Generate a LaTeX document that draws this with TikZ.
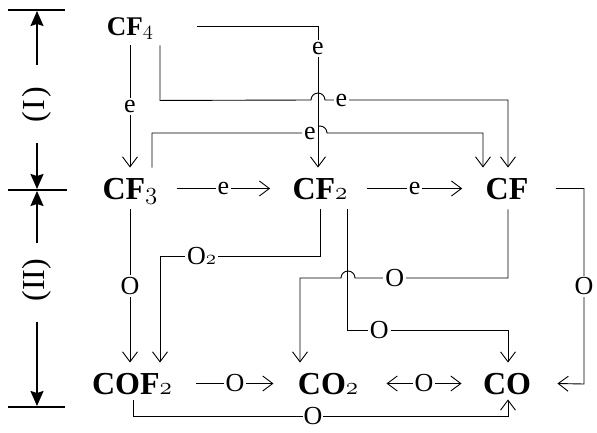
\documentclass[tikz,border=0pt]{standalone}
\usepackage{fontspec}
\setmainfont{Liberation Serif}
\usetikzlibrary{
    arrows.meta,
    positioning
}
\newcommand\osnum[2][25]{{\fontsize{#1}{#1}\usefont{OML}{cmm}{m}{it}#2}}

\begin{document}
\begin{tikzpicture}[x=1pt,y=1pt,line width=0.9pt,
  arr/.style={-{Straight Barb[length=10pt,width=15pt]}},
  arrbi/.style={{Straight Barb[length=10pt,width=15pt]}-{Straight Barb[length=10pt,width=15pt]}},
  spec/.style={font=\bfseries\fontsize{32}{36}\selectfont, anchor=base,
               inner xsep=0pt, inner ysep=10pt, text height=21pt, text depth=0pt},
  small spec/.style={spec, font=\bfseries\fontsize{27}{30}\selectfont, text height=18pt},
  lbl/.style={fill=white, inner sep=2pt, font=\fontsize{26}{28}\selectfont},
  stage/.style={font=\fontsize{32}{36}\selectfont, rotate=90},
  dim/.style={line width=1.8pt, -{Stealth[length=15pt,width=13pt,inset=2pt]}},
  bar/.style={line width=1.2pt}]

\useasboundingbox (0,0) rectangle (597,-432);

% Stages
\draw[bar] (8,-10) -- (65,-10);
\draw[bar] (8,-190) -- (67,-190);
\draw[bar] (8,-407) -- (65,-407);
\node[stage] (st1) at (37,-105) {(\kern2pt I\kern2pt)};
\node[stage] (st2) at (37,-280) {(II)};
\draw[dim] (37,-65) -- (37,-11);
\draw[dim] (37,-143) -- (37,-189);
\draw[dim] (37,-243) -- (37,-191);
\draw[dim] (37,-322) -- (37,-406);

% Species
\node[small spec] (cf4) at (130,-35) {CF\osnum[22]{4}};
\node[spec] (cf3) at (130,-199) {CF\osnum{3}};
\node[spec] (cf2) at (320,-199) {CF\osnum{2}};
\node[spec] (cf) at (507,-199) {CF};
\node[spec] (cof2) at (132,-394) {COF\osnum{2}};
\node[spec] (co2) at (328,-394) {CO\osnum{2}};
\node[spec] (co) at (507,-394) {CO};

% Electron steps
\draw[arr] (cf4.south) -- node[lbl]{e} (cf3.north);
\draw[arr] ([xshift=43pt]cf4.east) -| node[lbl,pos=0.58]{e} ([xshift=-2pt]cf2.north);
\draw[arr] ([xshift=30pt]cf4.south) -- ++(0,-55) -- (311,-100)
  arc[start angle=180,end angle=0,radius=7]
  -- node[lbl]{e} (358,-100) -| ([xshift=1pt]cf.north);
\draw[arr] ([xshift=22pt]cf3.north) |- (313,-133) node[lbl,xshift=-3pt]{e}
  arc[start angle=180,end angle=0,radius=7] -| ([xshift=-24pt]cf.north);
\draw[arr] ([xshift=19pt]cf3.east) -- node[lbl]{e} ([xshift=-22pt]cf2.west);
\draw[arr] ([xshift=19pt]cf2.east) -- node[lbl]{e} ([xshift=-23pt]cf.west);

% Oxygen steps
\draw[arr] (cf3.south) -- node[lbl]{O} (cf3.south |- cof2.north);
\draw[arr] (cf2.south) |- node[lbl,pos=0.87]{O\osnum[22]{2}} (160,-256)
  -- ([xshift=28pt]cof2.north);
\draw[arr] ([xshift=27pt]cf2.south) |- node[lbl,pos=0.6]{O} (508,-330)
  -- ([xshift=1pt]co.north);
\draw[arr] ([xshift=1pt]cf.south) |- node[lbl,pos=0.87]{O} (355,-278)
  arc[start angle=0,end angle=180,radius=7] -| ([xshift=-28pt]co2.north);
\draw[arr] ([xshift=27pt]cf.east) -| node[lbl,pos=0.75]{O} (584,-384)
  -- ([xshift=26pt]co.east);
\draw[arr] ([xshift=24pt]cof2.east) -- node[lbl]{O} ([xshift=-24pt]co2.west);
\draw[arrbi] ([xshift=28pt]co2.east) -- node[lbl]{O} ([xshift=-21pt]co.west);
\draw[arr] ([xshift=1pt,yshift=4pt]cof2.south) |- node[lbl,pos=0.74,inner sep=1pt]{O} (508,-416)
  -- ([xshift=1pt,yshift=5pt]co.south);

\end{tikzpicture}
\end{document}
